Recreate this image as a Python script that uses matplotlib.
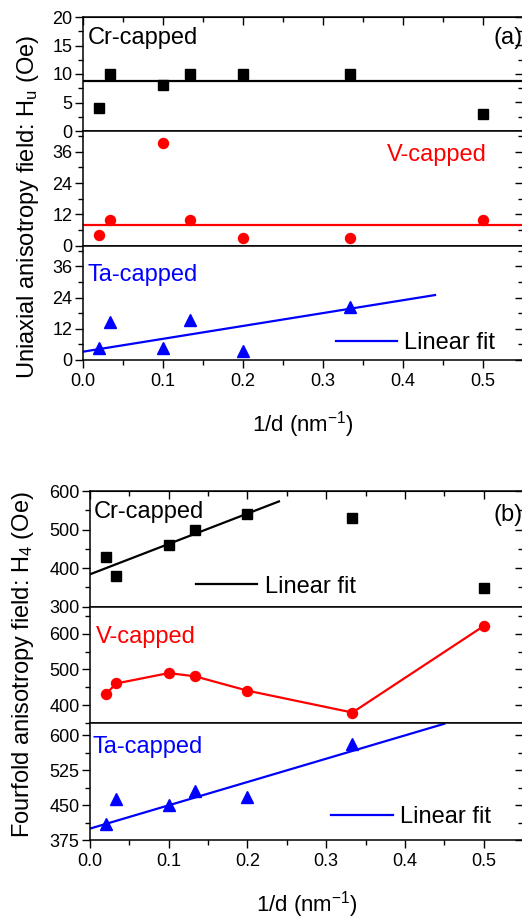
import matplotlib
matplotlib.use("Agg")
import matplotlib.pyplot as plt
from matplotlib.ticker import MultipleLocator

plt.rcParams['font.family'] = ['Liberation Sans', 'DejaVu Sans']
plt.rcParams['mathtext.fontset'] = 'custom'
plt.rcParams['mathtext.rm'] = 'Liberation Sans'
plt.rcParams['mathtext.it'] = 'Liberation Sans'

# ---------------- data ----------------
inv_d = [0.02, 0.0333, 0.1, 0.1333, 0.2, 0.3333, 0.5]

# (a) uniaxial anisotropy field Hu (Oe)
hu_cr = [4, 10, 8, 10, 10, 10, 3]
hu_v = [4, 10, 39.5, 10, 3, 3, 10]
hu_ta = [4.5, 14.5, 4.5, 15.5, 3.5, 20.4]
hu_ta_x = [0.02, 0.0333, 0.1, 0.1333, 0.2, 0.3333]
hu_cr_mean = 8.8
hu_v_mean = 8.0
hu_ta_fit_x = [0.0, 0.44]
hu_ta_fit_y = [3.2, 25.0]

# (b) fourfold anisotropy field H4 (Oe)
h4_cr = [430, 380, 460, 500, 540, 531, 349]
h4_v = [431, 461, 490, 481, 441, 380, 621]
h4_ta = [410, 463, 450, 481, 467, 581]
h4_ta_x = [0.02, 0.0333, 0.1, 0.1333, 0.2, 0.3333]
h4_cr_fit_x = [0.0, 0.24]
h4_cr_fit_y = [384, 573]
h4_ta_fit_x = [0.0, 0.45]
h4_ta_fit_y = [400, 624]

BLACK, RED, BLUE = '#000000', '#ff0000', '#0000ff'

W, H = 522, 919
fig = plt.figure(figsize=(W / 100, H / 100), dpi=100)


def make_ax(left_px, top_px, bot_px, right_px=523):
    return fig.add_axes([left_px / W, 1 - bot_px / H,
                         (right_px - left_px) / W, (bot_px - top_px) / H])


TICK_FS = 13
TEXT_FS = 17


def style(ax, ylim, major, minor, top=False, bottom_labels=False):
    ax.set_xlim(0, 0.55)
    ax.set_ylim(*ylim)
    ax.xaxis.set_major_locator(MultipleLocator(0.1))
    ax.xaxis.set_minor_locator(MultipleLocator(0.05))
    ax.yaxis.set_major_locator(MultipleLocator(major))
    ax.yaxis.set_minor_locator(MultipleLocator(minor))
    ax.tick_params(axis='both', which='major', direction='out', length=6,
                   width=1, labelsize=TICK_FS, pad=1.5)
    ax.tick_params(axis='both', which='minor', direction='out', length=3.5,
                   width=1)
    ax.tick_params(axis='x', labelbottom=bottom_labels, pad=3)
    for s in ax.spines.values():
        s.set_linewidth(1.1)
    # right mirrored ticks pointing inward
    sy = ax.secondary_yaxis('right')
    sy.yaxis.set_major_locator(MultipleLocator(major))
    sy.yaxis.set_minor_locator(MultipleLocator(minor))
    sy.tick_params(which='major', direction='in', length=6, width=1,
                   labelright=False)
    sy.tick_params(which='minor', direction='in', length=3.5, width=1)
    if top:
        sx = ax.secondary_xaxis('top')
        sx.xaxis.set_major_locator(MultipleLocator(0.1))
        sx.xaxis.set_minor_locator(MultipleLocator(0.05))
        sx.tick_params(which='major', direction='in', length=6, width=1,
                       labeltop=False)
        sx.tick_params(which='minor', direction='in', length=3.5, width=1)


LEG = dict(loc='center left', frameon=False, fontsize=TEXT_FS,
           handlelength=2.6, handletextpad=0.3, borderpad=0, borderaxespad=0)

# ---------------- panel (a) ----------------
a1 = make_ax(83, 17, 131)
a2 = make_ax(83, 131, 245.7)
a3 = make_ax(83, 245.7, 360)

a1.plot(inv_d, hu_cr, 's', color=BLACK, ms=6.7, zorder=3)
a1.axhline(hu_cr_mean, color=BLACK, lw=1.6)
style(a1, (0, 20), 5, 2.5, top=True)
a1.text(0.01, 0.82, 'Cr-capped', transform=a1.transAxes, fontsize=TEXT_FS,
        color=BLACK, va='center', ha='left')
a1.text(0.932, 0.82, '(a)', transform=a1.transAxes, fontsize=TEXT_FS,
        color=BLACK, va='center', ha='left')

a2.plot(inv_d, hu_v, 'o', color=RED, ms=7.2, zorder=3)
a2.axhline(hu_v_mean, color=RED, lw=1.6)
style(a2, (0, 44), 12, 6)
a2.text(0.918, 0.79, 'V-capped', transform=a2.transAxes, fontsize=TEXT_FS,
        color=RED, va='center', ha='right')

a3.plot(hu_ta_x, hu_ta, '^', color=BLUE, ms=8, zorder=3)
la, = a3.plot(hu_ta_fit_x, hu_ta_fit_y, '-', color=BLUE, lw=1.6)
style(a3, (0, 44), 12, 6, bottom_labels=True)
a3.text(0.01, 0.74, 'Ta-capped', transform=a3.transAxes, fontsize=TEXT_FS,
        color=BLUE, va='center', ha='left')
a3.legend([la], ['Linear fit'], bbox_to_anchor=(0.575, 0.146), **LEG)
a3.set_xlabel('1/d (nm$^{-1}$)', fontsize=16, labelpad=14)

fig.text(28 / W, 1 - 207 / H, 'Uniaxial anisotropy field: H$_\\mathregular{u}$ (Oe)',
         rotation=90, fontsize=17, ha='center', va='center')

# ---------------- panel (b) ----------------
b1 = make_ax(90, 491, 606.7)
b2 = make_ax(90, 606.7, 723.3)
b3 = make_ax(90, 723.3, 840.3)

b1.plot(inv_d, h4_cr, 's', color=BLACK, ms=6.7, zorder=3)
lb1, = b1.plot(h4_cr_fit_x, h4_cr_fit_y, '-', color=BLACK, lw=1.6)
style(b1, (300, 600), 100, 50, top=True)
b1.text(0.009, 0.82, 'Cr-capped', transform=b1.transAxes, fontsize=TEXT_FS,
        color=BLACK, va='center', ha='left')
b1.text(0.933, 0.79, '(b)', transform=b1.transAxes, fontsize=TEXT_FS,
        color=BLACK, va='center', ha='left')
b1.legend([lb1], ['Linear fit'], bbox_to_anchor=(0.245, 0.173), **LEG)

b2.plot(inv_d, h4_v, 'o-', color=RED, ms=7.2, lw=1.6, zorder=3)
style(b2, (350, 675), 100, 50)
b2.text(0.014, 0.74, 'V-capped', transform=b2.transAxes, fontsize=TEXT_FS,
        color=RED, va='center', ha='left')

b3.plot(h4_ta_x, h4_ta, '^', color=BLUE, ms=8, zorder=3)
lb3, = b3.plot(h4_ta_fit_x, h4_ta_fit_y, '-', color=BLUE, lw=1.6)
style(b3, (375, 625), 75, 37.5, bottom_labels=True)
b3.text(0.006, 0.80, 'Ta-capped', transform=b3.transAxes, fontsize=TEXT_FS,
        color=BLUE, va='center', ha='left')
b3.legend([lb3], ['Linear fit'], bbox_to_anchor=(0.557, 0.2), **LEG)
b3.set_xlabel('1/d (nm$^{-1}$)', fontsize=16, labelpad=14)

fig.text(23 / W, 1 - 665 / H, 'Fourfold anisotropy field: H$_\\mathregular{4}$ (Oe)',
         rotation=90, fontsize=17, ha='center', va='center')

fig.savefig('out.png', dpi=100)
